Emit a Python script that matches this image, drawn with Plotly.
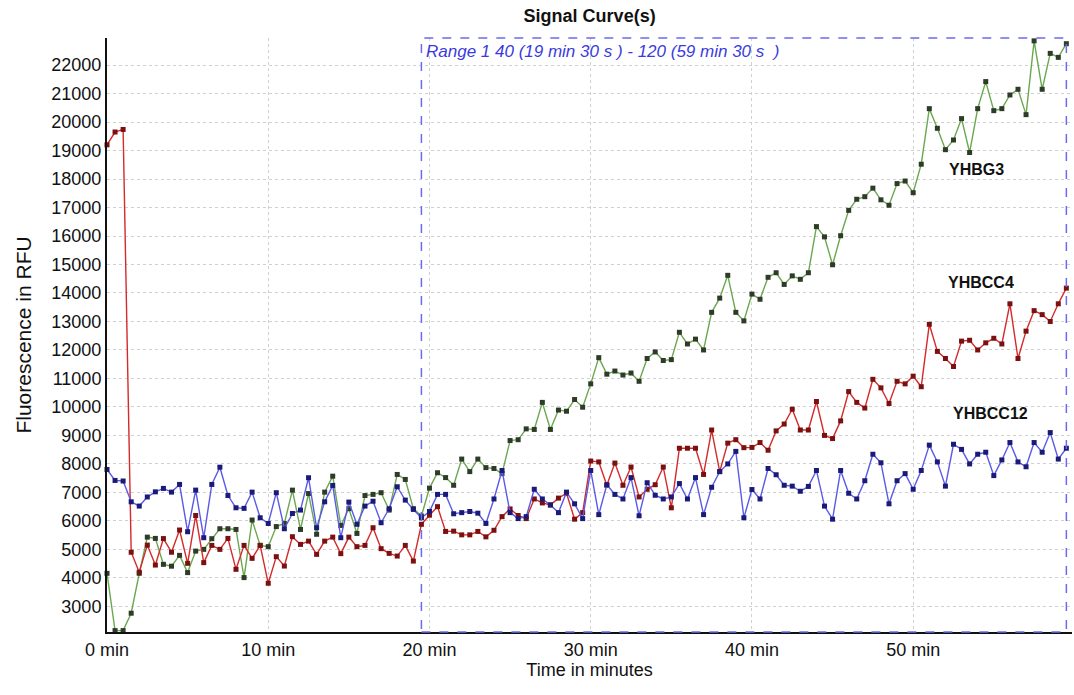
import plotly.graph_objects as go

# Sampling grid: one reading every 30 s, readings 1..120
time_min = [i * 0.5 for i in range(120)]

yhbg3 = [
    4160, 2150, 2150, 2760, 4160, 5430, 5385, 4475, 4410, 4790,
    4185, 4940, 5000, 5375, 5725, 5725, 5700, 4010, 6030, 5140,
    5095, 5800, 5910, 7080, 5700, 6960, 5530, 7010, 7570, 5840,
    6430, 5560, 6890, 6930, 6990, 6380, 7630, 7455, 6430, 6170,
    7150, 7690, 7520, 7250, 8170, 7730, 8170, 7870, 7840, 7660,
    8820, 8850, 9230, 9210, 10160, 9210, 9890, 9850, 10260, 9990,
    10810, 11730, 11150, 11260, 11120, 11190, 10900, 11700, 11930, 11630,
    11660, 12620, 12210, 12380, 12000, 13320, 13820, 14620, 13320, 13020,
    13960, 13780, 14550, 14710, 14300, 14600, 14480, 14710, 16330, 15970,
    14990, 16010, 16900, 17290, 17380, 17680, 17270, 17080, 17840, 17930,
    17520, 18520, 20470, 19780, 19030, 19370, 20120, 18930, 20470, 21420,
    20400, 20470, 20950, 21150, 20260, 22850, 21150, 22410, 22270, 22750,
]

yhbcc4 = [
    19200, 19650, 19740, 4900, 4200, 5150, 4450, 5380, 4900, 5680,
    4510, 6190, 4535, 5140, 5000, 5385, 4300, 5140, 4685, 5140,
    3810, 4745, 4415, 5445, 5175, 5290, 4825, 5290, 5430, 4850,
    5430, 5095, 5140, 5760, 5025, 4860, 4766, 5140, 4590, 5880,
    6200, 6500, 5630, 5640, 5510, 5510, 5630, 5440, 5670, 6150,
    6420, 6190, 6080, 6770, 6630, 6560, 6800, 6970, 6060, 6290,
    8100, 8070, 7250, 8030, 7250, 7890, 6840, 7110, 7270, 7890,
    6460, 8550, 8550, 8550, 7630, 9190, 7730, 8730, 8850, 8570,
    8580, 8750, 8480, 9160, 9400, 9920, 9190, 9190, 10190, 9000,
    8890, 9510, 10540, 10160, 9960, 10970, 10670, 10120, 10900, 10810,
    11080, 10710, 12900, 11950, 11700, 11420, 12310, 12340, 12000, 12250,
    12410, 12210, 13620, 11700, 12660, 13380, 13240, 13000, 13620, 14170,
]

yhbcc12 = [
    7805, 7420, 7400, 6670, 6520, 6840, 7020, 7140, 7010, 7280,
    5620, 7080, 5410, 7280, 7885, 6890, 6460, 6440, 7010, 6110,
    5910, 6990, 5725, 6260, 6380, 7515, 5760, 6670, 7245, 5410,
    6660, 5880, 6520, 6690, 5935, 6427, 7198, 6730, 6403, 6110,
    6330, 6930, 6930, 6250, 6290, 6330, 6270, 5910, 6770, 7770,
    6290, 6080, 6150, 7110, 6770, 6560, 6290, 7010, 6600, 6080,
    7770, 6220, 7270, 6930, 6770, 7520, 6180, 7340, 6900, 6770,
    6840, 7310, 6770, 7520, 6220, 7180, 7730, 8000, 8440, 6110,
    7100, 6770, 7840, 7620, 7250, 7220, 7040, 7210, 7770, 6520,
    6060, 7770, 6970, 6770, 7410, 8340, 8040, 6600, 7410, 7660,
    7110, 7770, 8660, 8070, 7220, 8690, 8510, 8000, 8340, 8410,
    7590, 8140, 8750, 8070, 7900, 8750, 8410, 9100, 8170, 8550,
]

x_ticks = [0, 10, 20, 30, 40, 50]
x_tick_text = ["0 min", "10 min", "20 min", "30 min", "40 min", "50 min"]
y_ticks = list(range(3000, 23000, 1000))

range_start, range_end = 19.5, 59.5

series = [
    ("YHBG3", yhbg3, "#6aa84f", "#2e3b28"),
    ("YHBCC4", yhbcc4, "#d42a2a", "#7a1010"),
    ("YHBCC12", yhbcc12, "#5a5ae6", "#1a1a78"),
]

fig = go.Figure()
for name, ys, line_col, mk_col in series:
    fig.add_trace(go.Scatter(
        x=time_min, y=ys, name=name, mode="lines+markers",
        line=dict(color=line_col, width=1.4),
        marker=dict(symbol="square", size=5, color=mk_col,
                    line=dict(width=0)),
        cliponaxis=False,
    ))

# Selected evaluation range
fig.add_shape(type="rect", xref="x", yref="paper",
              x0=range_start, x1=range_end, y0=0, y1=1,
              line=dict(color="#6b6bf0", width=1.5, dash="dash"),
              fillcolor="rgba(0,0,0,0)", layer="above")
fig.add_annotation(xref="x", yref="paper", x=range_start, y=1,
                   xanchor="left", yanchor="top", xshift=3, yshift=-2,
                   text="Range 1 40 (19 min 30 s ) - 120 (59 min 30 s  )",
                   showarrow=False,
                   font=dict(family="Liberation Sans, Arial", size=17,
                             color="#3a3ae0", style="italic"))

# Curve labels
labels = [("YHBG3", 53.9, 18320), ("YHBCC4", 54.2, 14360), ("YHBCC12", 54.8, 9770)]
for txt, lx, ly in labels:
    fig.add_annotation(x=lx, y=ly, text=f"<b>{txt}</b>", showarrow=False,
                       font=dict(family="Liberation Sans, Arial", size=16,
                                 color="#111111"))

fig.update_layout(
    width=1074, height=695,
    margin=dict(l=107, r=2, t=38, b=63),
    paper_bgcolor="white", plot_bgcolor="white",
    showlegend=False,
    title=dict(text="<b>Signal Curve(s)</b>", x=0.549, xanchor="center",
               y=0.977, yanchor="middle",
               font=dict(family="Liberation Sans, Arial", size=18,
                         color="#111111")),
    font=dict(family="Liberation Sans, Arial", color="#111111"),
)
fig.update_xaxes(
    range=[0, 59.85], tickvals=x_ticks, ticktext=x_tick_text,
    showgrid=True, gridcolor="#d0d0d0", griddash="dot", gridwidth=1,
    showline=True, linecolor="#111111", linewidth=2, mirror=False,
    ticks="", tickfont=dict(size=18), zeroline=False,
    title=dict(text="Time in minutes", font=dict(size=18), standoff=4),
)
fig.update_yaxes(
    range=[2100, 22950], tickvals=y_ticks, tickformat="d",
    showgrid=True, gridcolor="#d0d0d0", griddash="dot", gridwidth=1,
    showline=True, linecolor="#111111", linewidth=2,
    ticks="", tickfont=dict(size=18), zeroline=False,
    title=dict(text="Fluorescence in RFU", font=dict(size=21), standoff=14),
)

fig.write_html("out.html")
